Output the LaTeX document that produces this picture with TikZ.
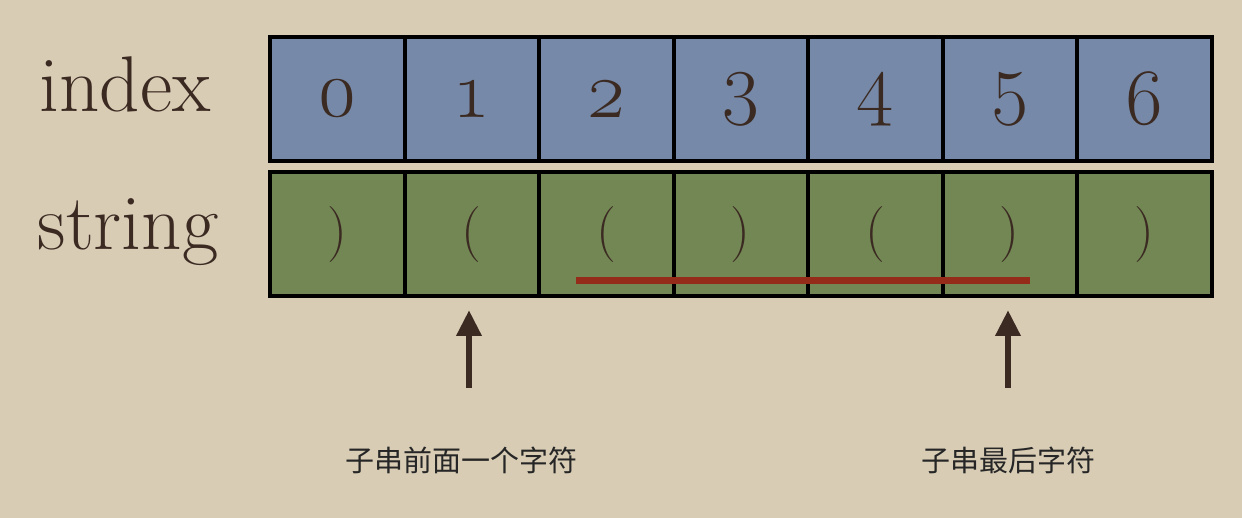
\documentclass[tikz,border=0pt]{standalone}
\usepackage{fontspec}
\setmainfont{Latin Modern Roman}
\newfontfamily\cjk{Noto Sans CJK SC}
\usetikzlibrary{arrows.meta}
\definecolor{paper}{HTML}{D8CCB5}
\definecolor{idxblue}{HTML}{7689A8}
\definecolor{strgreen}{HTML}{738754}
\definecolor{ink}{HTML}{3B2A22}
\definecolor{subred}{HTML}{952C1A}
\begin{document}
\begin{tikzpicture}[
   x=1pt, y=-1pt,
   cell/.style={draw=black, line width=4pt, minimum width=134.5pt, minimum height=124pt,
                inner sep=0pt, text=ink},
   idx/.style={cell, fill=idxblue, font=\fontsize{80}{80}\selectfont\addfontfeature{Numbers=OldStyle}},
   chr/.style={cell, fill=strgreen, font=\fontsize{56}{56}\selectfont},
   rowlabel/.style={anchor=base, text=ink, font=\fontsize{79}{79}\selectfont},
   note/.style={font=\cjk\fontsize{29}{29}\selectfont, text=black!85},
   pointer/.style={-{Triangle[width=24pt,length=26pt]}, line width=6.5pt, draw=ink}
]
\fill[paper] (0,0) rectangle (1242,518);
\useasboundingbox (0,0) rectangle (1242,518);

% Index row
\node[rowlabel] (lidx) at (125,112) {index};
\node[idx] (i0) at (337.25,99) {0};
\node[idx] (i1) at (471.75,99) {1};
\node[idx] (i2) at (606.25,99) {2};
\node[idx] (i3) at (740.75,99) {3};
\node[idx] (i4) at (875.25,99) {4};
\node[idx] (i5) at (1009.75,99) {5};
\node[idx] (i6) at (1144.25,99) {6};

% String row
\node[rowlabel] (lstr) at (128,250) {string};
\node[chr] (s0) at (337.25,234.5) {)};
\node[chr] (s1) at (471.75,234.5) {(};
\node[chr] (s2) at (606.25,234.5) {(};
\node[chr] (s3) at (740.75,234.5) {)};
\node[chr] (s4) at (875.25,234.5) {(};
\node[chr] (s5) at (1009.75,234.5) {)};
\node[chr] (s6) at (1144.25,234.5) {)};

% Substring mark
\coordinate (subL) at (576,281);
\coordinate (subR) at (1030,281);
\draw[subred, line width=7pt] (subL) -- (subR);

% Pointers
\coordinate (tailA) at (469,388);
\coordinate (headA) at (469,310);
\coordinate (tailB) at (1008,388);
\coordinate (headB) at (1008,310);
\draw[pointer] (tailA) -- (headA);
\draw[pointer] (tailB) -- (headB);
\node[note] (nA) at (461,460) {子串前面一个字符};
\node[note] (nB) at (1008,460) {子串最后字符};

\end{tikzpicture}
\end{document}
